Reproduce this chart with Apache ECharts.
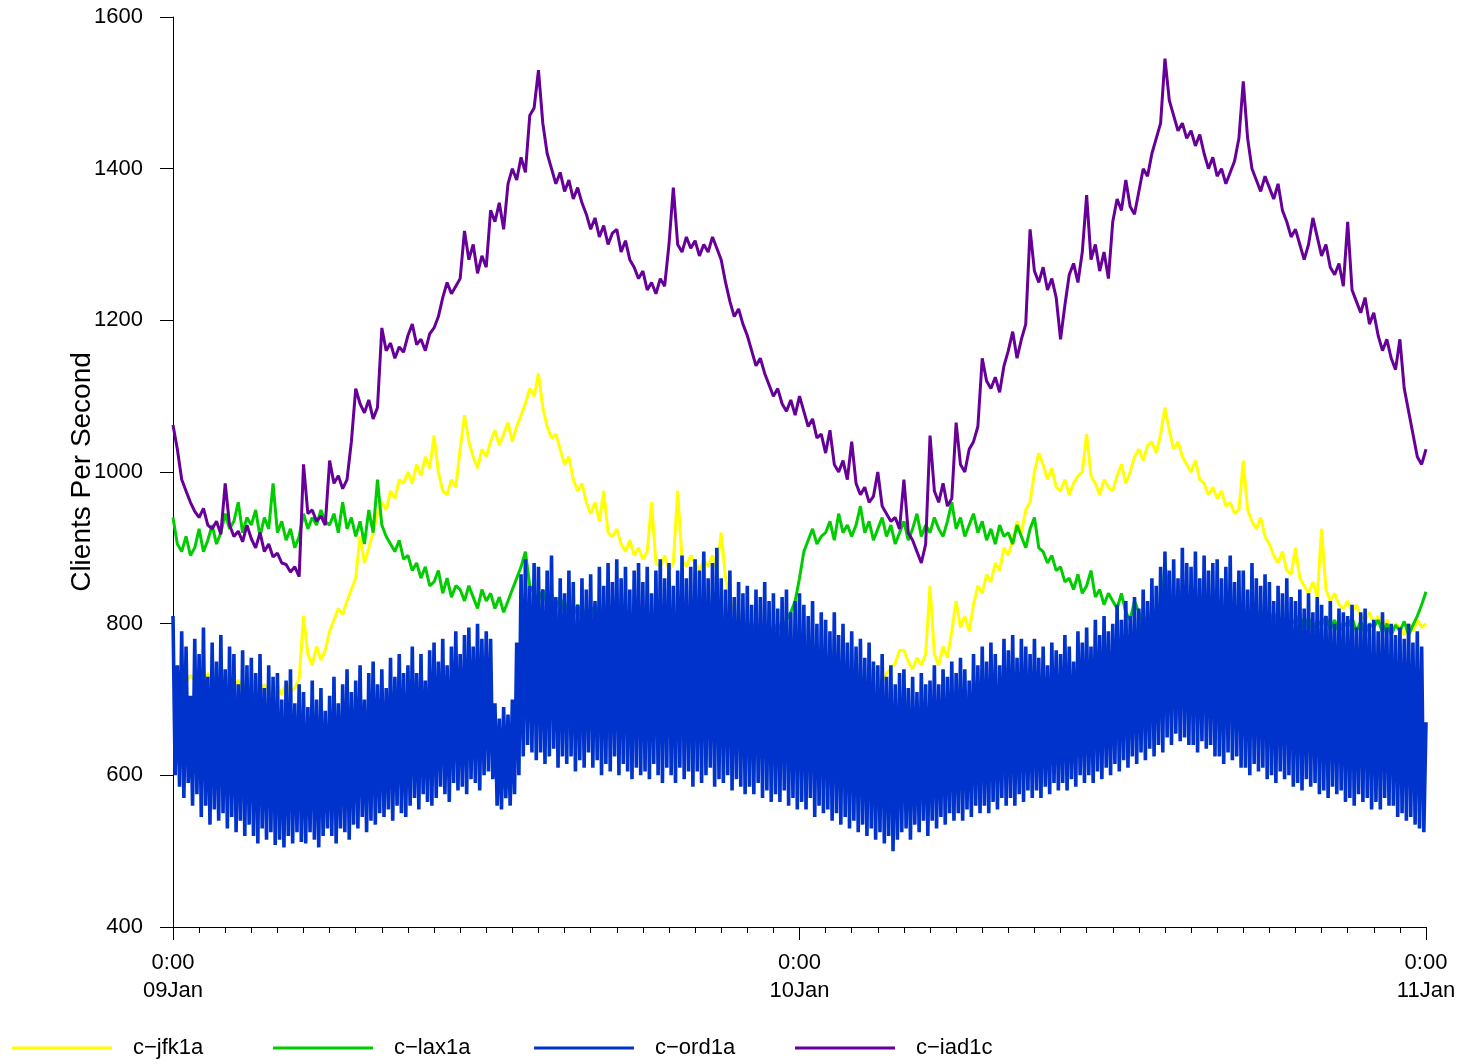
<!DOCTYPE html>
<html>
<head>
<meta charset="utf-8">
<title>Clients Per Second</title>
<script src="https://cdn.jsdelivr.net/npm/echarts@6/dist/echarts.min.js"></script>
<style>
  html, body { margin: 0; padding: 0; background: #fff; }
  #chart { width: 1465px; height: 1064px; }
</style>
</head>
<body>
<div id="chart"></div>
<script>
// Two days of client rates, 09 Jan 0:00 to 11 Jan 0:00 (x in hours).
const xTickLabels = ['0:00\n09Jan', '0:00\n10Jan', '0:00\n11Jan'];
const yTicks = [400, 600, 800, 1000, 1200, 1400, 1600];
const seriesNames = ['c\u2212jfk1a', 'c\u2212lax1a', 'c\u2212ord1a', 'c\u2212iad1c'];
const seriesColors = ['#ffff00', '#00cc00', '#0033cc', '#660099'];

// c-jfk1a: one row per hour, six 10-minute readings each, then the closing reading.
const jfkRows = [
  [735, 728, 740, 722, 732, 725], [730, 718, 735, 724, 712, 728],
  [720, 733, 715, 726, 710, 722], [716, 728, 708, 720, 712, 705],
  [718, 706, 722, 710, 715, 728], [810, 760, 745, 770, 752, 765],
  [790, 805, 820, 812, 830, 845], [860, 915, 880, 900, 920, 945],
  [960, 950, 975, 965, 990, 985], [1000, 985, 1010, 995, 1020, 1005],
  [1048, 1000, 975, 970, 990, 980], [1030, 1075, 1040, 1020, 1005, 1030],
  [1020, 1040, 1055, 1035, 1050, 1065], [1040, 1060, 1075, 1090, 1110, 1100],
  [1130, 1085, 1060, 1045, 1050, 1030], [1010, 1020, 990, 975, 985, 960],
  [945, 960, 935, 975, 920, 915], [925, 905, 895, 910, 890, 900],
  [885, 895, 960, 880, 875, 890], [870, 880, 975, 885, 875, 890],
  [880, 870, 885, 875, 890, 870], [920, 860, 835, 815, 800, 790],
  [775, 768, 780, 760, 770, 755], [760, 748, 755, 742, 750, 745],
  [740, 748, 732, 745, 736, 742], [735, 742, 728, 738, 730, 740],
  [728, 735, 722, 730, 725, 738], [730, 722, 735, 740, 748, 765],
  [765, 750, 740, 755, 745, 760], [850, 760, 745, 770, 755, 790],
  [830, 795, 810, 790, 825, 850], [840, 865, 855, 880, 870, 900],
  [890, 910, 935, 920, 950, 960], [1000, 1025, 1010, 990, 1005, 980],
  [975, 990, 970, 985, 995, 1000], [1050, 995, 985, 970, 990, 980],
  [975, 995, 1010, 985, 1000, 1020], [1030, 1015, 1035, 1040, 1025, 1050],
  [1085, 1055, 1030, 1040, 1020, 1010], [1000, 1015, 990, 985, 970, 980],
  [965, 975, 955, 960, 945, 950], [1015, 950, 935, 925, 940, 915],
  [905, 890, 880, 895, 870, 865], [900, 860, 850, 840, 855, 835],
  [925, 845, 830, 840, 825, 820], [830, 815, 825, 810, 805, 815],
  [800, 810, 795, 805, 790, 800], [795, 785, 800, 790, 805, 795]
];
const jfkEnd = 800;

// c-lax1a
const laxRows = [
  [940, 905, 895, 915, 890, 900], [925, 895, 910, 930, 905, 920],
  [945, 925, 935, 960, 920, 940], [930, 950, 915, 940, 925, 985],
  [920, 935, 910, 925, 900, 915], [945, 925, 940, 930, 950, 935],
  [930, 945, 920, 960, 925, 940], [915, 935, 905, 950, 920, 990],
  [930, 915, 905, 895, 910, 885], [890, 870, 880, 860, 875, 850],
  [855, 870, 840, 860, 835, 850], [845, 830, 850, 835, 820, 845],
  [830, 840, 820, 835, 815, 830], [845, 860, 875, 895, 850, 840],
  [830, 845, 825, 840, 820, 835], [815, 830, 810, 825, 805, 820],
  [810, 825, 805, 815, 800, 812], [805, 818, 800, 812, 795, 808],
  [800, 812, 796, 808, 790, 805], [798, 810, 792, 805, 788, 800],
  [795, 808, 790, 802, 785, 798], [792, 805, 788, 800, 782, 795],
  [790, 802, 785, 798, 780, 795], [790, 800, 788, 805, 815, 830],
  [860, 895, 910, 925, 905, 915], [920, 935, 910, 945, 920, 930],
  [915, 930, 955, 920, 935, 910], [925, 940, 915, 930, 905, 920],
  [935, 910, 925, 945, 915, 930], [920, 940, 925, 915, 935, 960],
  [925, 940, 915, 930, 945, 920], [935, 910, 925, 905, 930, 915],
  [920, 905, 930, 915, 900, 925], [940, 900, 895, 880, 890, 870],
  [875, 855, 860, 845, 865, 840], [850, 870, 835, 845, 825, 840],
  [830, 820, 840, 815, 805, 830], [815, 800, 810, 795, 820, 805],
  [880, 830, 815, 825, 805, 818], [812, 825, 805, 818, 800, 815],
  [810, 822, 800, 815, 798, 810], [805, 818, 798, 812, 795, 808],
  [802, 815, 795, 810, 792, 806], [800, 812, 793, 808, 790, 804],
  [798, 810, 792, 805, 788, 802], [796, 808, 790, 803, 786, 800],
  [795, 805, 788, 800, 785, 798], [790, 803, 785, 798, 810, 825]
];
const laxEnd = 842;

// c-ord1a swings every ten minutes: a high reading, then a low one five minutes later.
const ordPeakRows = [
  [810, 745, 790, 770, 705, 780], [760, 795, 730, 775, 750, 785],
  [740, 770, 760, 720, 765, 745], [755, 735, 760, 715, 745, 730],
  [735, 700, 725, 740, 695, 720], [710, 690, 725, 700, 715, 685],
  [705, 730, 695, 720, 740, 710], [725, 745, 700, 735, 750, 720],
  [740, 715, 755, 730, 760, 735], [745, 770, 735, 760, 725, 765],
  [775, 750, 780, 745, 770, 790], [760, 785, 795, 770, 800, 780],
  [790, 780, 695, 675, 690, 680], [700, 775, 865, 885, 850, 880],
  [875, 845, 870, 890, 835, 860], [840, 870, 855, 825, 860, 845],
  [865, 830, 875, 850, 880, 855], [885, 860, 875, 845, 870, 880],
  [855, 875, 840, 870, 885, 860], [880, 850, 870, 890, 860, 875],
  [885, 870, 895, 860, 880, 900], [860, 845, 870, 835, 855, 840],
  [850, 825, 845, 835, 855, 830], [840, 820, 835, 845, 815, 830],
  [840, 825, 810, 830, 800, 815], [805, 790, 815, 785, 800, 775],
  [790, 770, 780, 755, 775, 750], [745, 760, 730, 745, 720, 735],
  [740, 715, 730, 710, 735, 720], [725, 745, 720, 740, 730, 750],
  [735, 755, 740, 725, 760, 745], [770, 750, 775, 760, 745, 780],
  [765, 785, 755, 780, 770, 760], [780, 755, 770, 745, 775, 765],
  [760, 785, 770, 750, 790, 775], [795, 770, 805, 785, 810, 790],
  [800, 825, 805, 830, 810, 835], [820, 845, 830, 860, 850, 875],
  [895, 870, 885, 860, 900, 880], [875, 895, 860, 890, 870, 880],
  [885, 860, 875, 890, 855, 870], [870, 845, 880, 860, 850, 865],
  [855, 830, 850, 840, 860, 835], [830, 845, 820, 840, 815, 835],
  [825, 810, 830, 800, 820, 815], [810, 825, 795, 815, 820, 800],
  [805, 790, 815, 795, 800, 785], [795, 780, 800, 775, 790, 770]
];
const ordTroughRows = [
  [600, 585, 570, 590, 560, 575], [545, 560, 535, 555, 540, 550],
  [530, 545, 525, 540, 520, 535], [520, 510, 530, 515, 525, 508],
  [515, 505, 520, 510, 525, 512], [510, 525, 515, 505, 520, 530],
  [520, 510, 530, 525, 515, 535], [530, 545, 525, 540, 535, 550],
  [545, 555, 540, 560, 550, 545], [560, 570, 555, 575, 565, 560],
  [570, 585, 575, 565, 590, 580], [585, 575, 595, 590, 580, 600],
  [605, 595, 560, 555, 570, 560], [575, 600, 625, 640, 630, 620],
  [630, 615, 625, 635, 610, 625], [615, 625, 605, 620, 610, 630],
  [610, 620, 600, 615, 605, 625], [600, 615, 605, 595, 610, 600],
  [605, 595, 615, 600, 590, 610], [600, 590, 610, 595, 605, 585],
  [605, 590, 600, 610, 585, 595], [590, 600, 580, 595, 585, 575],
  [585, 575, 590, 570, 580, 565], [575, 565, 580, 560, 570, 555],
  [565, 555, 570, 545, 560, 550], [555, 540, 550, 535, 545, 530],
  [540, 525, 535, 520, 530, 515], [525, 510, 520, 500, 515, 525],
  [530, 515, 535, 525, 540, 520], [540, 530, 545, 535, 550, 540],
  [550, 540, 555, 545, 560, 550], [560, 550, 565, 555, 570, 560],
  [570, 560, 575, 565, 580, 570], [580, 570, 585, 575, 590, 580],
  [590, 580, 595, 585, 600, 590], [600, 590, 605, 595, 610, 600],
  [615, 605, 620, 610, 625, 615], [630, 620, 635, 625, 640, 630],
  [650, 640, 655, 645, 650, 640], [640, 630, 645, 635, 640, 625],
  [625, 615, 630, 620, 625, 610], [610, 600, 615, 605, 610, 595],
  [600, 590, 605, 595, 600, 585], [590, 580, 595, 585, 590, 575],
  [580, 570, 585, 575, 580, 565], [570, 560, 575, 565, 570, 555],
  [565, 555, 570, 560, 560, 545], [550, 540, 545, 535, 530, 525]
];
const ordEnd = 670;

// c-iad1c
const iadRows = [
  [1062, 1030, 990, 975, 960, 948], [940, 952, 930, 925, 935, 918],
  [985, 930, 915, 922, 908, 930], [912, 900, 920, 895, 905, 888],
  [893, 880, 878, 868, 875, 862], [1010, 945, 950, 935, 942, 930],
  [1015, 985, 995, 978, 990, 1040], [1110, 1090, 1078, 1095, 1070, 1085],
  [1190, 1160, 1170, 1150, 1165, 1158], [1180, 1195, 1168, 1175, 1160, 1182],
  [1190, 1205, 1230, 1250, 1235, 1245], [1255, 1318, 1280, 1300, 1262, 1285],
  [1270, 1345, 1330, 1355, 1320, 1380], [1400, 1385, 1415, 1395, 1470, 1480],
  [1530, 1460, 1420, 1400, 1380, 1395], [1370, 1385, 1360, 1375, 1355, 1340],
  [1320, 1335, 1310, 1325, 1300, 1315], [1320, 1290, 1305, 1280, 1270, 1255],
  [1265, 1240, 1250, 1235, 1255, 1245], [1300, 1375, 1300, 1290, 1310, 1295],
  [1305, 1285, 1300, 1290, 1310, 1295], [1280, 1250, 1225, 1205, 1215, 1195],
  [1180, 1160, 1140, 1150, 1130, 1115], [1100, 1110, 1090, 1080, 1095, 1075],
  [1100, 1080, 1060, 1070, 1045, 1050], [1025, 1055, 1010, 1000, 1015, 990],
  [1040, 985, 970, 980, 960, 968], [1000, 955, 945, 935, 940, 925],
  [990, 920, 910, 895, 880, 905], [1048, 975, 960, 985, 955, 965],
  [1065, 1010, 1000, 1030, 1040, 1060], [1150, 1120, 1110, 1125, 1105, 1140],
  [1160, 1185, 1150, 1175, 1195, 1320], [1265, 1250, 1270, 1240, 1255, 1230],
  [1175, 1220, 1260, 1275, 1250, 1290], [1365, 1280, 1300, 1265, 1290, 1255],
  [1330, 1360, 1345, 1385, 1350, 1340], [1370, 1400, 1390, 1420, 1440, 1460],
  [1545, 1490, 1470, 1450, 1460, 1440], [1450, 1430, 1445, 1420, 1400, 1415],
  [1390, 1400, 1380, 1395, 1410, 1440], [1515, 1440, 1400, 1385, 1370, 1390],
  [1375, 1360, 1380, 1345, 1330, 1310], [1320, 1300, 1280, 1300, 1335, 1310],
  [1285, 1300, 1270, 1260, 1275, 1245], [1330, 1240, 1225, 1210, 1230, 1195],
  [1210, 1180, 1160, 1175, 1150, 1135], [1175, 1110, 1080, 1050, 1020, 1010]
];
const iadEnd = 1030;

const FONT = '"Liberation Sans", Arial, Helvetica, sans-serif';

// 10-minute readings -> [hour, value] pairs
function tenMinuteSeries(rows, last) {
  const flat = rows.flat();
  const pts = flat.map((v, i) => [i / 6, v]);
  pts.push([rows.length, last]);
  return pts;
}

// alternating high/low readings, 5 minutes apart
function swingSeries(peakRows, troughRows, last) {
  const peaks = peakRows.flat();
  const troughs = troughRows.flat();
  const pts = [];
  for (let i = 0; i < peaks.length; i++) {
    pts.push([i / 6, peaks[i]]);
    pts.push([i / 6 + 1 / 12, troughs[i]]);
  }
  pts.push([peakRows.length, last]);
  return pts;
}

const seriesData = [
  tenMinuteSeries(jfkRows, jfkEnd),
  tenMinuteSeries(laxRows, laxEnd),
  swingSeries(ordPeakRows, ordTroughRows, ordEnd),
  tenMinuteSeries(iadRows, iadEnd)
];
const lineWidths = [3, 3, 3.6, 3];

const chart = echarts.init(document.getElementById('chart'), null, { renderer: 'canvas' });

chart.setOption({
  animation: false,
  backgroundColor: '#ffffff',
  textStyle: { fontFamily: FONT },
  grid: { left: 173, top: 17, width: 1253, height: 910, containLabel: false },
  xAxis: {
    type: 'value',
    min: 0,
    max: 48,
    interval: 24,
    axisLine: { show: true, lineStyle: { color: '#000', width: 1 } },
    axisTick: { show: true, length: 13, lineStyle: { color: '#000', width: 1 } },
    minorTick: { show: true, splitNumber: 24, length: 6, lineStyle: { color: '#000', width: 1 } },
    splitLine: { show: false },
    minorSplitLine: { show: false },
    axisLabel: {
      showMinLabel: true,
      showMaxLabel: true,
      formatter: v => xTickLabels[Math.round(v / 24)],
      margin: 22,
      fontSize: 22,
      lineHeight: 28,
      color: '#000',
      fontFamily: FONT
    }
  },
  yAxis: {
    type: 'value',
    min: yTicks[0],
    max: yTicks[yTicks.length - 1],
    interval: yTicks[1] - yTicks[0],
    name: 'Clients Per Second',
    nameLocation: 'middle',
    nameGap: 77,
    nameMoveOverlap: false,
    nameTextStyle: { fontSize: 28, color: '#000', fontFamily: FONT },
    axisLine: { show: true, lineStyle: { color: '#000', width: 1 } },
    axisTick: { show: true, length: 13, lineStyle: { color: '#000', width: 1 } },
    splitLine: { show: false },
    axisLabel: { margin: 30, fontSize: 22, color: '#000', fontFamily: FONT, formatter: v => String(v) }
  },
  legend: seriesNames.map((name, i) => ({
    data: [name],
    left: 12 + i * 261,
    top: 1037,
    padding: 0,
    icon: 'rect',
    itemWidth: 100,
    itemHeight: 3,
    selectedMode: false,
    textStyle: { fontSize: 22, color: '#000', fontFamily: FONT, padding: [0, 0, 0, 16] }
  })),
  series: seriesNames.map((name, i) => ({
    name: name,
    type: 'line',
    data: seriesData[i],
    showSymbol: false,
    symbol: 'none',
    silent: true,
    color: seriesColors[i],
    lineStyle: { color: seriesColors[i], width: lineWidths[i], join: 'bevel' },
    z: 2 + i
  }))
});
</script>
</body>
</html>
